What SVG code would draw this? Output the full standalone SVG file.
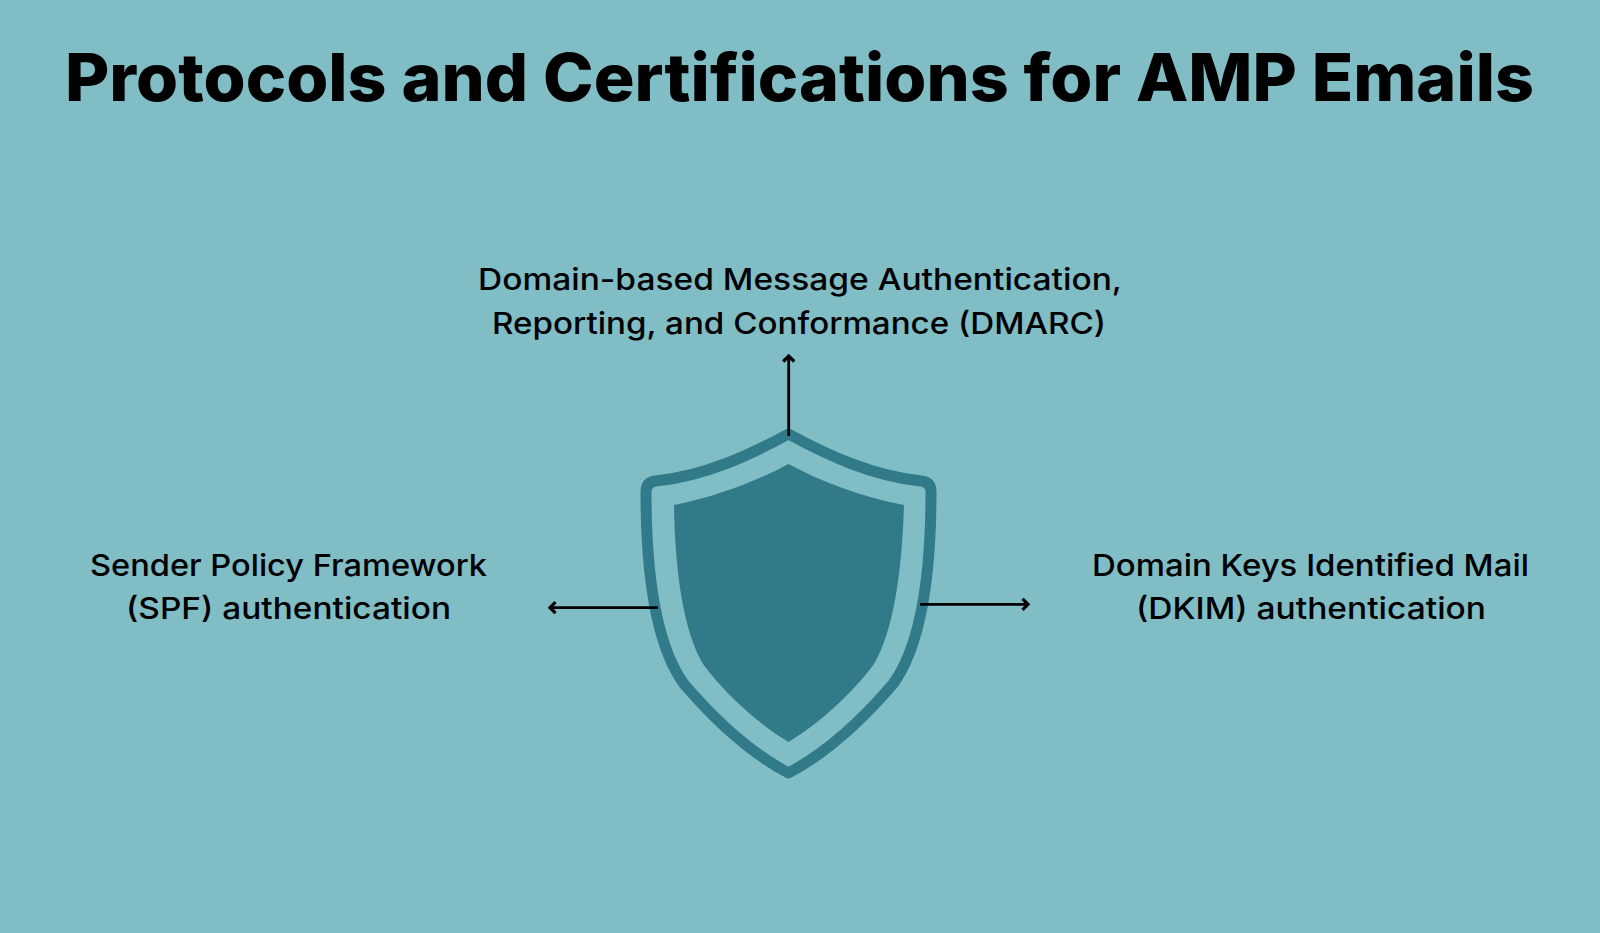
<svg xmlns="http://www.w3.org/2000/svg" width="1600" height="933" viewBox="0 0 1600 933">
<style>
.title{font-family:"Inter","Liberation Sans",sans-serif;font-weight:800;font-size:66px;fill:#000}
.label{font-family:"Inter","Liberation Sans",sans-serif;font-weight:450;font-size:30px;fill:#000}
.shield{fill:#307A8A}
.rim{fill:none;stroke:#307A8A;stroke-width:11;stroke-linejoin:round}
.conn{fill:none;stroke:#000;stroke-width:2.8;marker-end:url(#arrow)}
</style>
<defs>
<marker id="arrow" markerUnits="userSpaceOnUse" markerWidth="16" markerHeight="16" refX="11" refY="8" orient="auto">
<path d="M5.5 2.5L11 8L5.5 13.5" fill="none" stroke="#000" stroke-width="3.2"/>
</marker>
</defs>
<rect width="1600" height="933" fill="#81BDC4"/>
<g id="title"><text class="title" x="65" y="101" textLength="1469" lengthAdjust="spacingAndGlyphs">Protocols and Certifications for AMP Emails</text></g>
<g id="shield">
<path class="rim" d="M788.5 434C750 455 705 476 656 481Q646 482 646 492C646 560 652 640 684 684C708 712 745 750 788.5 773C832 750 869 712 893 684C925 640 931 560 931 492Q931 482 921 481C872 476 827 455 788.5 434Z"/>
<path class="shield" d="M788.5 464C755 482 715 497 674 505C675 570 683 630 703 664C722 690 755 722 788.5 742C822 722 855 690 874 664C894 630 902 570 904 505C862 497 822 482 788.5 464Z"/>
</g>
<g id="node-dmarc">
<text class="label" x="478" y="289.5" textLength="644" lengthAdjust="spacingAndGlyphs">Domain-based Message Authentication,</text>
<text class="label" x="492" y="333.5" textLength="614" lengthAdjust="spacingAndGlyphs">Reporting, and Conformance (DMARC)</text>
</g>
<g id="node-spf">
<text class="label" x="90" y="575.5" textLength="397" lengthAdjust="spacingAndGlyphs">Sender Policy Framework</text>
<text class="label" x="126" y="618.5" textLength="325" lengthAdjust="spacingAndGlyphs">(SPF) authentication</text>
</g>
<g id="node-dkim">
<text class="label" x="1092" y="575.5" textLength="437" lengthAdjust="spacingAndGlyphs">Domain Keys Identified Mail</text>
<text class="label" x="1136" y="618.5" textLength="350" lengthAdjust="spacingAndGlyphs">(DKIM) authentication</text>
</g>
<g id="connectors">
<path class="conn" d="M788.7 436V356"/>
<path class="conn" d="M658 607.7H550"/>
<path class="conn" d="M920 604.3H1028"/>
</g>
</svg>
